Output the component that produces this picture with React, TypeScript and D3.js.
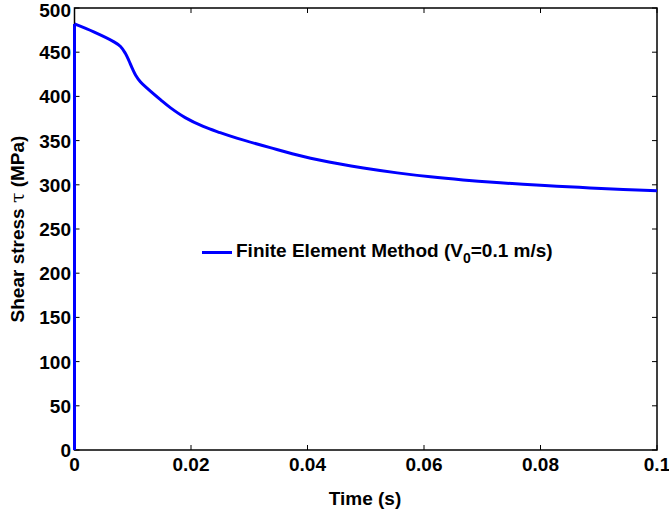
import React from "react";
import * as d3 from "d3";

const timeValues = [0, 0, 0.0033, 0.0067, 0.0079, 0.0087, 0.0093, 0.0099, 0.0105, 0.0113, 0.0125, 0.0148, 0.0165, 0.019, 0.0221, 0.025, 0.028, 0.0336, 0.0393, 0.0456, 0.0496, 0.0554, 0.0611, 0.0667, 0.0731, 0.077, 0.0828, 0.0885, 0.0942, 0.1];
const stressValues = [0, 482, 473, 462, 456.5, 449, 441, 432, 424, 416.6, 409, 396, 387, 376, 366, 359, 352.5, 342, 332, 323.5, 319, 313.5, 309, 305.5, 302.3, 300.6, 298.4, 296.5, 294.8, 293.3];
const xTicks = [0, 0.02, 0.04, 0.06, 0.08, 0.1];
const xTickLabels = ["0", "0.02", "0.04", "0.06", "0.08", "0.1"];
const yTicks = [0, 50, 100, 150, 200, 250, 300, 350, 400, 450, 500];

const W = 669, H = 515;
const M = { left: 74.5, top: 8, right: 12, bottom: 65 };
const FONT = "'Liberation Sans', Arial, Helvetica, sans-serif";
const FS = 19;

export default function App() {
  const x = d3.scaleLinear().domain([0, 0.1]).range([M.left, W - M.right]);
  const y = d3.scaleLinear().domain([0, 500]).range([H - M.bottom, M.top]);
  const pts: [number, number][] = timeValues.map((t, i) => [t, stressValues[i]]);
  const rise = d3.line<[number, number]>().x(d => x(d[0])).y(d => y(d[1]))(pts.slice(0, 2)) || "";
  const decay = d3.line<[number, number]>().x(d => x(d[0])).y(d => y(d[1])).curve(d3.curveCatmullRom.alpha(0.5))(pts.slice(1)) || "";
  const x0 = x(0), x1 = x(0.1), y0 = y(0), y1 = y(500);
  const tl = 5;
  return (
    <div style={{ position: "fixed", left: 0, top: 0 }}>
      <svg width={W} height={H} style={{ display: "block", background: "#fff" }} fontFamily={FONT} fontWeight="bold">
        <rect x={0} y={0} width={W} height={H} fill="#fff" />
        {xTicks.map((t, i) => (
          <g key={"xt" + i}>
            <line x1={x(t)} x2={x(t)} y1={y0} y2={y0 - tl} stroke="#000" strokeWidth={1} />
            <line x1={x(t)} x2={x(t)} y1={y1} y2={y1 + tl} stroke="#000" strokeWidth={1} />
            <text x={x(t)} y={471} textAnchor="middle" fontSize={FS}>{xTickLabels[i]}</text>
          </g>
        ))}
        {yTicks.map((v, i) => (
          <g key={"yt" + i}>
            <line x1={x0} x2={x0 + tl} y1={y(v)} y2={y(v)} stroke="#000" strokeWidth={1} />
            <line x1={x1} x2={x1 - tl} y1={y(v)} y2={y(v)} stroke="#000" strokeWidth={1} />
            <text x={71} y={Math.max(y(v) + 7, 17)} textAnchor="end" fontSize={FS}>{v}</text>
          </g>
        ))}
        <rect x={x0} y={y1} width={x1 - x0} height={y0 - y1} fill="none" stroke="#000" strokeWidth={1.5} />
        <path d={rise} fill="none" stroke="#0000ff" strokeWidth={3} />
        <path d={decay} fill="none" stroke="#0000ff" strokeWidth={3} strokeLinejoin="round" />
        <text x={365} y={505} textAnchor="middle" fontSize={FS}>Time (s)</text>
        <text transform={`translate(24,${(y0 + y1) / 2}) rotate(-90)`} textAnchor="middle" fontSize={FS}>
          Shear stress <tspan fontWeight="normal" fontFamily="'DejaVu Serif', serif">τ</tspan> (MPa)
        </text>
        <line x1={202} x2={232} y1={252.5} y2={252.5} stroke="#0000ff" strokeWidth={3} />
        <text x={236} y={257} fontSize={FS}>
          Finite Element Method (V<tspan dy={6} fontSize={14}>0</tspan><tspan dy={-6}>=0.1 m/s)</tspan>
        </text>
      </svg>
    </div>
  );
}
